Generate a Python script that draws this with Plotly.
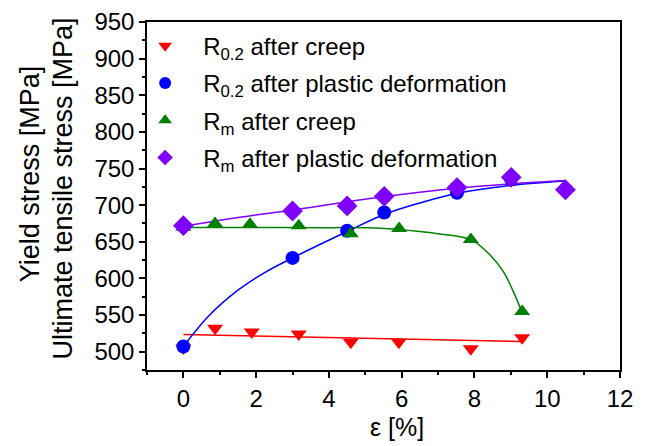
import plotly.graph_objects as go

# ---- data ----
x_r02_creep = [0, 0.87, 1.88, 3.17, 4.6, 5.92, 7.9, 9.31]
y_r02_creep = [505, 532, 527, 524, 513, 513, 504, 519]

x_r02_plastic = [0, 3.0, 4.5, 5.52, 7.52, 9.0]
y_r02_plastic = [507, 628, 665, 690, 717, 736]

x_rm_creep = [0, 0.87, 1.83, 3.17, 4.6, 5.93, 7.9, 9.31]
y_rm_creep = [670, 675, 674, 672, 661, 668, 653, 555]

x_rm_plastic = [0, 3.0, 4.5, 5.52, 7.52, 9.01, 10.5]
y_rm_plastic = [672, 692, 699, 712, 724, 738, 721]

# fitted trend curves
fit_r02_creep_x = [0, 9.31]
fit_r02_creep_y = [523.5, 514]

fit_r02_plastic_x = [0, 0.7, 1.5, 2.2, 3, 4.5, 5.5, 6.5, 7.5, 9, 10.5]
fit_r02_plastic_y = [507, 549, 584, 607, 628, 664, 687, 703, 716, 727, 733]

fit_rm_creep_x = [0, 2, 4, 5.1, 6.5, 7.0, 7.9, 8.43, 8.79, 9.07, 9.31]
fit_rm_creep_y = [669.5, 669.5, 669.3, 669, 664, 661, 653, 632, 609.5, 582, 553]

fit_rm_plastic_x = [0, 1.5, 3, 5.2, 7.5, 9, 10.5]
fit_rm_plastic_y = [671, 683, 693.5, 709.5, 723, 729, 733.5]

names = ["R<sub>0.2</sub> after creep",
         "R<sub>0.2</sub> after plastic deformation",
         "R<sub>m</sub> after creep",
         "R<sub>m</sub> after plastic deformation"]

y_title_lines = ["Yield stress [MPa]", "Ultimate tensile stress [MPa]"]
x_title = "ε [%]"

RED = "#FF0000"
BLUE = "#0000FF"
GREEN = "#008000"
PURPLE = "#8000FF"

x_ticks = [0, 2, 4, 6, 8, 10, 12]
y_ticks = [500, 550, 600, 650, 700, 750, 800, 850, 900, 950]

FONT = "Liberation Sans, Arial, sans-serif"

fig = go.Figure()

# trend lines first (underneath markers)
for fx, fy, col, shape in [
    (fit_r02_creep_x, fit_r02_creep_y, RED, "linear"),
    (fit_r02_plastic_x, fit_r02_plastic_y, BLUE, "spline"),
    (fit_rm_creep_x, fit_rm_creep_y, GREEN, "spline"),
    (fit_rm_plastic_x, fit_rm_plastic_y, PURPLE, "spline"),
]:
    fig.add_trace(go.Scatter(x=fx, y=fy, mode="lines",
                             line=dict(color=col, width=1.5, shape=shape),
                             showlegend=False, hoverinfo="skip"))

series = [
    (x_r02_creep, y_r02_creep, RED, "triangle-down", 14),
    (x_r02_plastic, y_r02_plastic, BLUE, "circle", 14),
    (x_rm_creep, y_rm_creep, GREEN, "triangle-up", 14),
    (x_rm_plastic, y_rm_plastic, PURPLE, "diamond", 16),
]
for i, (sx, sy, col, sym, sz) in enumerate(series):
    fig.add_trace(go.Scatter(x=sx, y=sy, mode="markers", name=names[i],
                             legendgroup=f"g{i}",
                             marker=dict(color=col, symbol=sym, size=sz,
                                         line=dict(width=0))))

fig.update_layout(
    width=640, height=438,
    margin=dict(l=139, r=28, t=14, b=76, autoexpand=False),
    plot_bgcolor="white", paper_bgcolor="white",
    font=dict(family=FONT, size=24, color="black"),
    legend=dict(x=-0.042, y=0.995, xanchor="left", yanchor="top",
                bgcolor="rgba(0,0,0,0)", font=dict(size=24),
                traceorder="grouped", tracegroupgap=3, itemsizing="constant",
                itemwidth=66),
    xaxis=dict(range=[-1, 12], tickvals=x_ticks, ticktext=[str(v) for v in x_ticks],
               showline=True, linecolor="black", linewidth=1.5, mirror=True,
               ticks="outside", ticklen=6, tickwidth=1.5, tickcolor="black",
               minor=dict(ticks="outside", ticklen=3.5, tickwidth=1.5,
                          tickcolor="black", dtick=1, tick0=0, showgrid=False),
               showgrid=False, zeroline=False, automargin=False),
    yaxis=dict(range=[475, 950], tickvals=y_ticks, ticktext=[str(v) for v in y_ticks],
               showline=True, linecolor="black", linewidth=1.5, mirror=True,
               ticks="outside", ticklen=6, tickwidth=1.5, tickcolor="black",
               minor=dict(ticks="outside", ticklen=3.5, tickwidth=1.5,
                          tickcolor="black", dtick=25, tick0=0, showgrid=False),
               showgrid=False, zeroline=False, automargin=False),
    annotations=[
        dict(text=y_title_lines[0], xref="paper", yref="paper",
             x=-0.2474, y=0.565, xanchor="center", yanchor="middle",
             textangle=-90, showarrow=False, font=dict(size=27)),
        dict(text=y_title_lines[1], xref="paper", yref="paper",
             x=-0.1776, y=0.5216, xanchor="center", yanchor="middle",
             textangle=-90, showarrow=False, font=dict(size=27)),
        dict(text=x_title, xref="paper", yref="paper",
             x=0.5285, y=-0.1638, xanchor="center", yanchor="middle",
             showarrow=False, font=dict(size=25)),
    ],
)

fig.write_html("out.html")
